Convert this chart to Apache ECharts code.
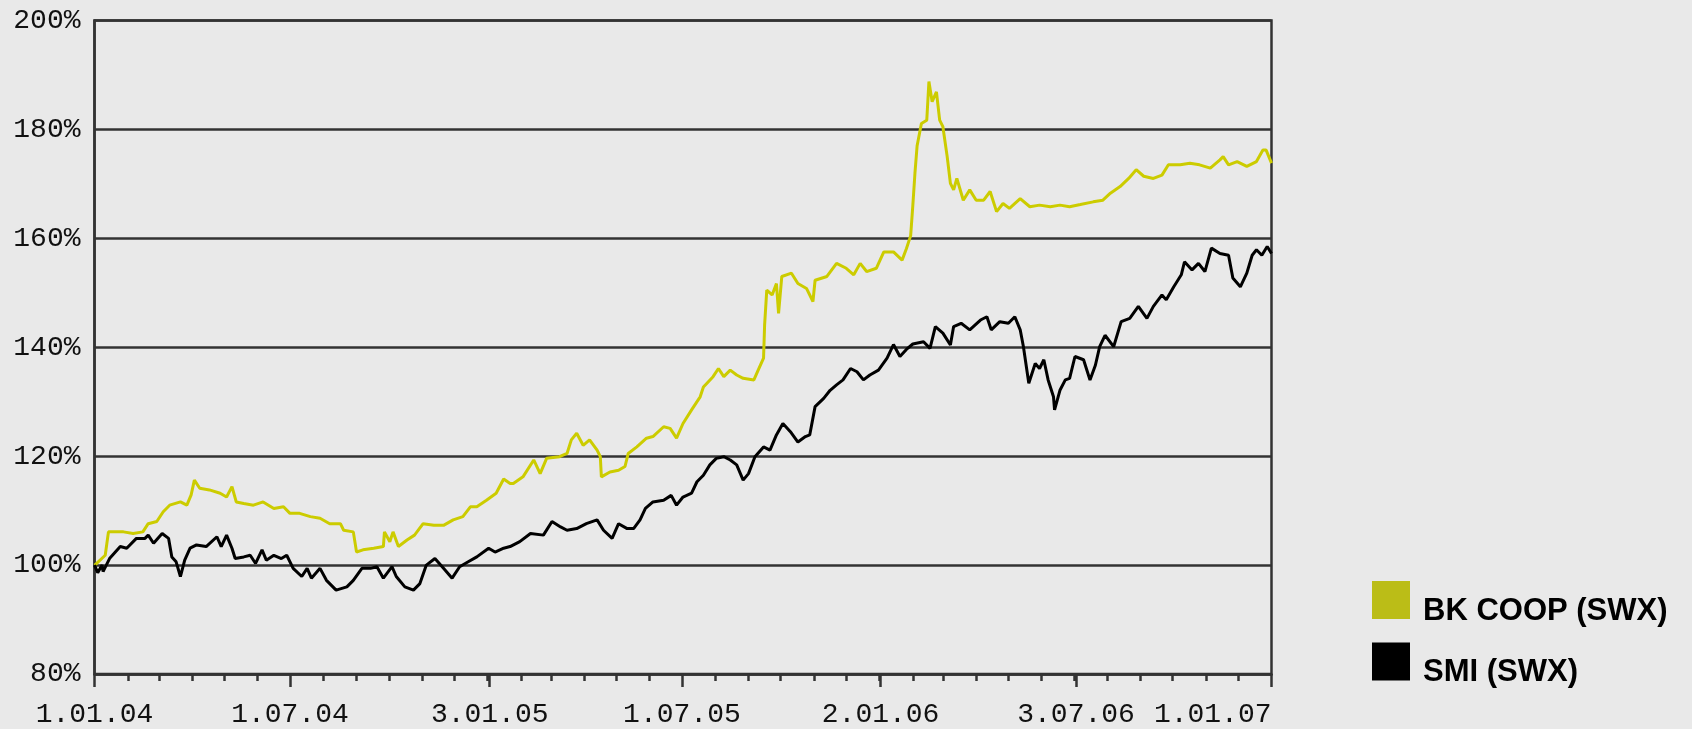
<!DOCTYPE html>
<html>
<head>
<meta charset="utf-8">
<script src="https://cdn.jsdelivr.net/npm/echarts@6/dist/echarts.min.js"></script>
<style>
html,body{margin:0;padding:0;background:#e9e9e9;}
#c{width:1692px;height:729px;}
</style>
</head>
<body>
<div id="c"></div>
<script>
const seriesNames = ['BK COOP (SWX)', 'SMI (SWX)'];
const tickDates = ['2004-01-01','2004-07-01','2005-01-03','2005-07-01','2006-01-02','2006-07-03','2007-01-01'];
const tickLabels = ['1.01.04','1.07.04','3.01.05','1.07.05','2.01.06','3.07.06','1.01.07'];

// days since 2004-01-01
const coopDays = [0,2,10,13,17,27,36,45,50,58,64,70,80,86,90,93,98,107,117,123,128,132,139,148,157,167,176,182,191,201,210,219,229,232,241,244,250,260,269,270,275,278,283,291,298,306,316,325,334,343,350,356,365,374,381,387,390,399,409,415,421,433,440,444,449,455,461,468,471,472,480,488,494,497,505,514,520,530,536,542,548,556,564,567,576,581,586,592,598,604,614,618,623,624,626,631,635,637,640,649,655,663,669,671,682,691,700,707,713,719,728,735,744,752,756,760,762,764,766,770,775,777,780,784,787,790,794,797,800,803,809,815,821,828,834,840,846,852,862,871,880,890,899,908,918,930,939,946,955,963,970,977,986,994,1000,1011,1020,1029,1039,1048,1051,1056,1064,1073,1082,1088,1091,1096];
const coopValues = [100,100.3,101.8,106.1,106.1,106.1,105.8,106.1,107.6,108,109.8,111,111.6,111,112.9,115.6,114.1,113.8,113.2,112.5,114.4,111.6,111.3,111,111.6,110.4,110.7,109.5,109.5,108.9,108.6,107.6,107.6,106.4,106.1,102.4,102.8,103.1,103.4,106.1,104.3,106.1,103.4,104.6,105.5,107.6,107.3,107.3,108.3,108.9,110.7,110.7,111.9,113.2,115.8,115,115,116.2,119.3,116.8,119.6,119.9,120.5,123,124.2,122,123,121.1,119.9,116.2,117.1,117.4,118.1,120.5,121.7,123.3,123.6,125.4,125.1,123.3,126,128.5,130.9,132.7,134.6,136.1,134.6,135.8,134.9,134.3,134,135.8,138,144.1,150.5,149.6,151.7,146.2,153,153.6,151.7,150.8,148.4,152.3,153,155.4,154.5,153.3,155.4,153.9,154.5,157.5,157.5,156,158.1,160.5,166,172,177,181.1,181.7,188.8,185.1,186.9,181.7,180.5,175,170.1,168.9,171,167,168.9,167,167,168.6,164.9,166.4,165.5,167.3,165.8,166.1,165.8,166.1,165.8,166.2,166.7,167,168.3,169.5,171,172.6,171.4,171,171.6,173.5,173.5,173.8,173.5,172.9,174.4,175,173.5,174.1,173.2,174.1,176.2,176.2,173.8];

const smiDays = [0,3,7,8,14,24,30,39,47,50,55,63,69,72,76,80,84,89,95,104,114,118,123,128,131,139,145,150,156,160,167,174,179,185,193,198,202,210,216,225,235,241,249,257,263,269,277,281,289,297,303,309,317,325,333,340,348,356,367,373,381,387,396,406,418,426,434,440,449,458,468,474,482,488,496,502,508,513,520,530,537,542,548,556,561,567,573,579,586,592,598,604,609,615,623,629,635,641,648,655,662,666,671,679,685,691,697,704,710,716,722,730,738,744,750,756,762,772,778,783,790,797,800,807,815,825,831,835,843,851,857,862,865,870,876,880,884,888,893,894,899,904,908,913,921,927,932,936,941,949,956,964,972,980,986,994,998,1005,1012,1015,1022,1028,1034,1040,1048,1056,1060,1067,1073,1078,1082,1087,1092,1096];
const smiValues = [100,98.6,100,98.8,101.2,103.4,103.1,104.9,104.9,105.5,104,105.8,104.9,101.5,100.6,97.9,100.9,103.1,103.7,103.4,105.2,103.4,105.5,103.1,101.2,101.5,101.8,100.3,102.8,100.9,101.8,101.2,101.8,99.4,97.9,99.4,97.6,99.4,97.2,95.4,96,97.2,99.4,99.4,99.7,97.6,99.7,97.9,96,95.4,96.6,100,101.2,99.4,97.6,99.7,100.6,101.5,103.1,102.4,103.1,103.4,104.3,105.8,105.5,108,107,106.4,106.7,107.6,108.3,106.4,104.9,107.6,106.7,106.7,108.3,110.4,111.6,111.9,112.8,111,112.5,113.2,115.3,116.5,118.4,119.6,119.9,119.3,118.4,115.6,116.8,119.9,121.7,121.1,123.9,126,124.5,122.6,123.6,123.9,129.1,130.6,132.1,133.1,134,136.1,135.5,134,134.9,135.8,138,140.5,138.3,139.6,140.6,141,139.8,143.8,142.6,140.4,143.8,144.4,143.2,145,145.6,143.2,144.7,144.4,145.6,143.2,140.1,133.4,137,136.1,137.7,134,130.9,128.5,132.1,134,134.3,138.3,137.7,134,136.7,140.1,142.2,140.1,144.7,145.3,147.5,145.3,147.5,149.6,148.7,151.1,153.3,155.7,154.2,155.4,153.9,158.2,157.2,156.9,152.7,151.1,153.6,156.9,157.9,156.9,158.5,157.2];

const DAY = 86400000, BASE = Date.UTC(2004, 0, 1);
function dayOf(s) { const p = s.split('-'); return Math.round((Date.UTC(+p[0], +p[1] - 1, +p[2]) - BASE) / DAY); }
const majorTicks = tickDates.map(dayOf);
const labelMap = {};
majorTicks.forEach((d, i) => { labelMap[d] = tickLabels[i]; });
const monthTicks = [];
for (let y = 2004; y <= 2006; y++) for (let m = 0; m < 12; m++) monthTicks.push(Math.round((Date.UTC(y, m, 1) - BASE) / DAY));
const xMax = dayOf('2007-01-01');

const axisColor = '#333333';
const monoFont = { fontFamily: 'Liberation Mono', fontSize: 28, color: '#111111' };

const chart = echarts.init(document.getElementById('c'), null, { renderer: 'canvas' });
chart.setOption({
  animation: false,
  backgroundColor: '#e9e9e9',
  grid: { left: 94.5, right: 420.5, top: 20.5, bottom: 55, show: true, borderColor: axisColor, borderWidth: 2.5, backgroundColor: 'transparent' },
  legend: {
    orient: 'vertical', left: 1372, top: 581, padding: 0,
    itemWidth: 38, itemHeight: 38, itemGap: 16, icon: 'rect',
    data: [
      { name: seriesNames[0], itemStyle: { color: '#bbbd17' } },
      { name: seriesNames[1], itemStyle: { color: '#000000' } }
    ],
    formatter: name => '{t|' + name + '}',
    textStyle: {
      fontFamily: 'Liberation Sans', fontWeight: 'bold', fontSize: 31, color: '#000',
      rich: { t: { fontFamily: 'Liberation Sans', fontWeight: 'bold', fontSize: 31, color: '#000', padding: [22, 0, 0, 8] } }
    }
  },
  xAxis: [
    {
      type: 'value', min: 0, max: xMax, position: 'bottom',
      axisLine: { show: true, lineStyle: { color: axisColor, width: 2.5 } },
      axisTick: { show: true, customValues: majorTicks, length: 13, lineStyle: { color: axisColor, width: 2.5 } },
      axisLabel: Object.assign({ customValues: majorTicks, formatter: v => labelMap[Math.round(v)] || '', alignMaxLabel: 'right', margin: 27 }, monoFont),
      splitLine: { show: false }
    },
    {
      type: 'value', min: 0, max: xMax, position: 'bottom', offset: 0,
      axisLine: { show: false },
      axisTick: { show: true, customValues: monthTicks, length: 7, lineStyle: { color: axisColor, width: 2.5 } },
      axisLabel: { show: false },
      splitLine: { show: false }
    }
  ],
  yAxis: {
    type: 'value', min: 80, max: 200, interval: 20,
    axisLine: { show: true, lineStyle: { color: axisColor, width: 2.5 } },
    axisTick: { show: false },
    axisLabel: Object.assign({ formatter: '{value}%', margin: 14 }, monoFont),
    splitLine: { show: true, lineStyle: { color: axisColor, width: 2.5 } }
  },
  series: [
    {
      name: seriesNames[0], type: 'line', xAxisIndex: 0, showSymbol: false, symbol: 'none',
      data: coopDays.map((d, i) => [d, coopValues[i]]),
      lineStyle: { color: '#cccc00', width: 3 }, itemStyle: { color: '#bbbd17' }
    },
    {
      name: seriesNames[1], type: 'line', xAxisIndex: 0, showSymbol: false, symbol: 'none',
      data: smiDays.map((d, i) => [d, smiValues[i]]),
      lineStyle: { color: '#000000', width: 3 }, itemStyle: { color: '#000000' }
    }
  ]
});
</script>
</body>
</html>
